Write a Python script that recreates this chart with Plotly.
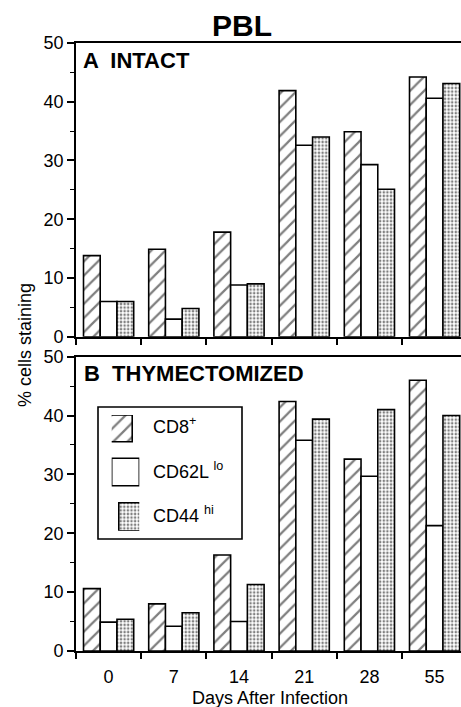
import plotly.graph_objects as go

# ---- data ----
days = ["0", "7", "14", "21", "28", "55"]
series_names = ["CD8<sup>+</sup>", "CD62L <sup>lo</sup>", "CD44 <sup>hi</sup>"]

intact_cd8 = [13.8, 14.9, 17.8, 41.9, 34.9, 44.2]
intact_cd62l = [6.0, 3.0, 8.8, 32.6, 29.3, 40.6]
intact_cd44 = [6.0, 4.8, 9.0, 34.0, 25.1, 43.1]

thy_cd8 = [10.6, 8.0, 16.3, 42.4, 32.6, 46.0]
thy_cd62l = [4.9, 4.2, 5.0, 35.8, 29.7, 21.3]
thy_cd44 = [5.4, 6.5, 11.3, 39.4, 41.0, 40.0]

yticks = [0, 10, 20, 30, 40, 50]

# ---- styles ----
FONT = "Liberation Sans, Arial, sans-serif"
LW = 1.6
styles = [
    dict(color="white", pattern=dict(shape="/", fgcolor="black", bgcolor="white", size=10, solidity=0.22)),
    dict(color="white"),
    dict(color="white", pattern=dict(shape=".", fgcolor="black", bgcolor="white", size=3.6, solidity=0.4)),
]

xpos = list(range(len(days)))
fig = go.Figure()

panels = [("x", "y", [intact_cd8, intact_cd62l, intact_cd44]),
          ("x2", "y2", [thy_cd8, thy_cd62l, thy_cd44])]
for xa, ya, vals in panels:
    for name, v, st in zip(series_names, vals, styles):
        marker = dict(line=dict(color="black", width=LW), **st)
        fig.add_trace(go.Bar(x=xpos, y=v, name=name, marker=marker, xaxis=xa, yaxis=ya,
                             showlegend=False, hoverinfo="skip"))

# ---- custom legend swatches (auxiliary axes) ----
sw_base = [89, 45, 0]
sw_h = [26.7, 27.4, 28]
for name, st, b, h in zip(series_names, styles, sw_base, sw_h):
    marker = dict(line=dict(color="black", width=LW), **st)
    fig.add_trace(go.Bar(x=[0.5], y=[h], base=[b], width=[1], marker=marker,
                         xaxis="x3", yaxis="y3", showlegend=False, hoverinfo="skip"))

cat_w = 65.2
plot_w = 385
xr = [-0.5, -0.5 + plot_w / cat_w]

xcommon = dict(range=xr, tickmode="array", tickvals=xpos, ticktext=days, ticks="",
               showline=True, linecolor="black", linewidth=LW, mirror=True,
               showgrid=False, zeroline=False,
               minor=dict(ticks="outside", tick0=-0.5, dtick=1, ticklen=6,
                          tickwidth=LW, tickcolor="black"),
               tickfont=dict(family=FONT, size=18, color="black"))
ycommon = dict(range=[0, 50], tickmode="array", tickvals=yticks, ticks="outside",
               ticklen=7, tickwidth=LW, tickcolor="black",
               showline=True, linecolor="black", linewidth=LW, mirror=False,
               showgrid=False, zeroline=False,
               minor=dict(ticks="outside", dtick=5, ticklen=4, tickwidth=1, tickcolor="black"),
               tickfont=dict(family=FONT, size=18, color="black"))

H = 707
mt, mb = 43, 56
ph = H - mt - mb

def py(pix):
    return (H - mb - pix) / ph

def px(pix):
    return (pix - 76) / plot_w

fig.update_layout(
    width=461, height=707,
    margin=dict(l=76, r=0, t=mt, b=mb),
    paper_bgcolor="white", plot_bgcolor="white",
    barmode="group", bargap=0.23, bargroupgap=0,
    showlegend=False,
    xaxis=dict(anchor="y", domain=[0, 1], showticklabels=False, **xcommon),
    yaxis=dict(anchor="x", domain=[py(336.7), 1], **ycommon),
    xaxis2=dict(anchor="y2", domain=[0, 1], showticklabels=True, ticklabelstandoff=9, **xcommon),
    yaxis2=dict(anchor="x2", domain=[0, py(356.7)], **ycommon),
    xaxis3=dict(anchor="y3", domain=[px(111.7), px(139.3)], range=[0, 1], visible=False),
    yaxis3=dict(anchor="x3", domain=[py(530.7), py(415)], range=[0, 115.7], visible=False),
)

ann = []
ann.append(dict(text="<b>PBL</b>", x=px(242), y=py(25), xref="paper", yref="paper",
                showarrow=False, xanchor="center", yanchor="middle",
                font=dict(family=FONT, size=30, color="black")))
ann.append(dict(text="<b>A  INTACT</b>", x=px(81), y=py(60), xref="paper", yref="paper",
                showarrow=False, xanchor="left", yanchor="middle",
                font=dict(family=FONT, size=22, color="black")))
ann.append(dict(text="<b>B  THYMECTOMIZED</b>", x=px(82), y=py(373), xref="paper", yref="paper",
                showarrow=False, xanchor="left", yanchor="middle",
                font=dict(family=FONT, size=22, color="black")))
ann.append(dict(text="% cells staining", x=px(25), y=py(345), xref="paper", yref="paper",
                showarrow=False, xanchor="center", yanchor="middle", textangle=-90,
                font=dict(family=FONT, size=18, color="black")))
ann.append(dict(text="Days After Infection", x=px(270), y=py(698), xref="paper", yref="paper",
                showarrow=False, xanchor="center", yanchor="middle",
                font=dict(family=FONT, size=18, color="black")))
for name, yc in zip(series_names, [426, 470, 514]):
    ann.append(dict(text=name, x=px(151), y=py(yc), xref="paper", yref="paper",
                    showarrow=False, xanchor="left", yanchor="middle",
                    font=dict(family=FONT, size=18, color="black")))
fig.update_layout(annotations=ann)

fig.add_shape(type="rect", xref="paper", yref="paper",
              x0=px(98), x1=px(242), y0=py(539), y1=py(407),
              line=dict(color="black", width=LW))

fig.write_html("out.html",
               config={"displayModeBar": False},
               post_script="document.body.style.margin='0';document.body.style.padding='0';"
                           "document.body.style.overflow='hidden';")
